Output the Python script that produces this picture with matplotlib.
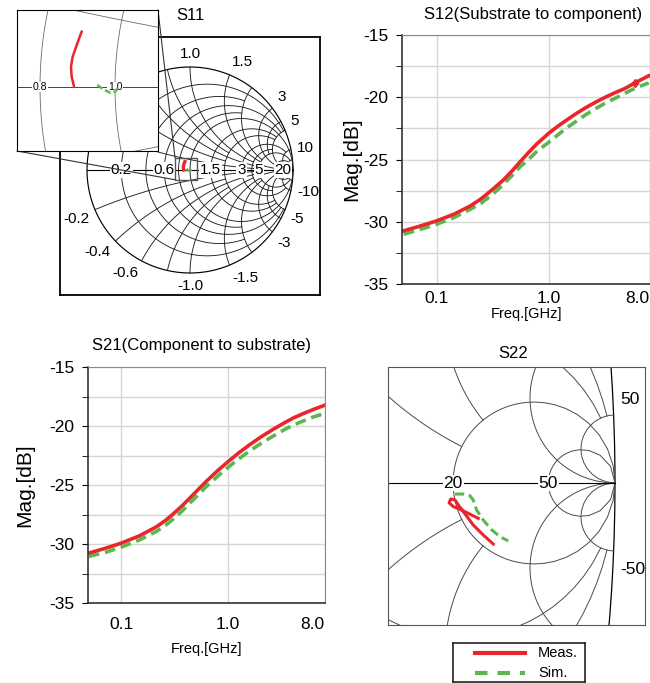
import numpy as np
import matplotlib.pyplot as plt
from matplotlib.patches import Rectangle, ConnectionPatch
from matplotlib.ticker import MultipleLocator, NullLocator

plt.rcParams['font.family'] = ['Liberation Sans', 'DejaVu Sans']
plt.rcParams['axes.unicode_minus'] = False

W, H = 650, 683
RED = '#e8262b'
GREEN = '#5ab84e'

# S12 magnitude (GHz, dB)
s12_f_meas = [0.0507, 0.0722, 0.1, 0.142, 0.2, 0.25, 0.316, 0.394, 0.47, 0.554, 0.66,
              0.778, 1.0, 1.2, 1.43, 1.75, 2.15, 2.65, 3.24, 4.0, 4.87, 5.97, 7.83]
s12_meas = [-30.73, -30.33, -29.93, -29.4, -28.73, -28.15, -27.4, -26.65, -25.93, -25.2,
            -24.45, -23.78, -22.9, -22.35, -21.87, -21.33, -20.83, -20.38, -19.98, -19.6,
            -19.27, -18.82, -18.28]
s12_f_sim = [0.0507, 0.0722, 0.1, 0.142, 0.2, 0.25, 0.316, 0.394, 0.47, 0.554, 0.66,
             0.778, 1.0, 1.2, 1.43, 1.75, 2.15, 2.65, 3.24, 4.0, 4.87, 6.0, 7.83]
s12_sim = [-31.0, -30.6, -30.2, -29.67, -29.0, -28.5, -27.8, -27.0, -26.3, -25.6,
           -25.0, -24.38, -23.62, -23.05, -22.5, -21.95, -21.4, -20.9, -20.45, -20.05,
           -19.65, -19.25, -18.85]

# S21 magnitude (GHz, dB)
s21_f = [0.0498, 0.072, 0.1, 0.149, 0.213, 0.26, 0.305, 0.37, 0.437, 0.53, 0.627, 0.8,
         1.0, 1.26, 1.6, 2.05, 2.64, 3.3, 4.07, 5.1, 6.27, 8.0]
s21_meas = [-30.77, -30.35, -29.93, -29.3, -28.55, -28.0, -27.47, -26.78, -26.12, -25.35,
            -24.68, -23.78, -23.02, -22.27, -21.57, -20.9, -20.28, -19.77, -19.32, -18.93,
            -18.6, -18.24]
s21_sim = [-31.05, -30.7, -30.27, -29.65, -28.94, -28.42, -27.9, -27.22, -26.55, -25.8,
           -25.12, -24.25, -23.5, -22.78, -22.1, -21.45, -20.85, -20.35, -19.92, -19.55,
           -19.23, -18.94]

# S11 reflection coefficient (real, imag)
s11_meas_re = [-0.0494, -0.0558, -0.0627, -0.0652, -0.0642, -0.0607]
s11_meas_im = [0.0819, 0.0647, 0.0449, 0.0301, 0.0153, 0.0004]
s11_sim_re = [-0.0262, -0.0173, -0.0074, 0.0, 0.0059]
s11_sim_im = [0.003, -0.0035, -0.0084, -0.0069, -0.0005]

# S22 reflection coefficient (real, imag)
s22_meas_re = [0.9196, 0.9098, 0.9049, 0.9024, 0.9034, 0.9059, 0.9078, 0.9108,
               0.9166, 0.9225, 0.9284]
s22_meas_im = [-0.0208, -0.0159, -0.0139, -0.0116, -0.0094, -0.0100, -0.0129, -0.0169,
               -0.0247, -0.0306, -0.0359]
s22_sim_re = [0.9059, 0.9108, 0.9147, 0.9166, 0.9186, 0.9225, 0.9275, 0.9324, 0.9372]
s22_sim_im = [-0.0065, -0.0065, -0.0075, -0.0100, -0.0159, -0.0218, -0.0276, -0.0316,
              -0.0341]

# smith grid: (value, limit of the other coordinate where the arc stops)
inf = np.inf
full_r = [(0.2, 5), (0.4, 2), (0.6, 5), (0.8, 2), (1.0, inf), (1.5, 5), (2, 5),
          (3, 10), (4, 5), (5, 20), (10, 20), (20, inf)]
full_x = [(0.2, 5), (0.4, 2), (0.6, 5), (0.8, 2), (1.0, inf), (1.5, 5), (2, 5),
          (3, 10), (4, 5), (5, 20), (10, 20), (20, inf)]
s11_axis_labels = [0.2, 0.6, 1.5, 3, 5, 20]
s11_rim_labels = [1.0, 1.5, 3, 5, 10, -0.2, -0.4, -0.6, -1.0, -1.5, -3, -5, -10]
zoom_r = [(5, 50), (10, 50), (20, inf), (50, inf)]
zoom_x = [(5, 20), (10, 20), (20, inf), (50, inf)]


def gamma(z):
    return (z - 1) / (z + 1)


def fmt(v):
    return f'{v:g}' if abs(v) >= 2 else f'{v:.1f}'


def smith_grid(ax, rvals, xvals, color, lw):
    t = np.linspace(-np.pi / 2 + 1e-6, np.pi / 2 - 1e-6, 800)
    g = gamma(0 + 1j * np.tan(t))
    ax.plot(g.real, g.imag, color='k', lw=lw + 0.2, zorder=1)
    for r, xmax in rvals:
        lim = np.arctan(xmax)
        g = gamma(r + 1j * np.tan(np.linspace(-lim, lim, 600)))
        ax.plot(g.real, g.imag, color=color, lw=lw, zorder=1)
    for x, rmax in xvals:
        p = np.linspace(0, np.arctan(rmax), 600)
        for s in (1, -1):
            g = gamma(np.tan(p) + 1j * s * x)
            ax.plot(g.real, g.imag, color=color, lw=lw, zorder=1)


def smith_axes(fig, box, origin, scale, at=(0.0, 0.0)):
    # box in pixels; origin pixel shows the reflection coefficient `at`
    x0, x1, y0, y1 = box
    ax = fig.add_axes([x0 / W, 1 - y1 / H, (x1 - x0) / W, (y1 - y0) / H])
    ox, oy = origin
    ax.set_xlim(at[0] + (x0 - ox) / scale, at[0] + (x1 - ox) / scale)
    ax.set_ylim(at[1] + (oy - y1) / scale, at[1] + (oy - y0) / scale)
    ax.set_xticks([])
    ax.set_yticks([])
    return ax


fig = plt.figure(figsize=(W / 100, H / 100), dpi=100)

# ---- S11 full chart
ax11 = smith_axes(fig, (60, 320, 37, 295), (190, 170), 103)
smith_grid(ax11, full_r, full_x, '#1e1e1e', 0.65)
ax11.plot([-1, 1], [0, 0], color='k', lw=0.8, zorder=1)
for r in s11_axis_labels:
    ax11.text(gamma(r), 0, fmt(r), fontsize=11, ha='center', va='center', zorder=1.5,
              bbox=dict(fc='white', ec='none', pad=0.5))
for x in s11_rim_labels:
    ang = np.angle(gamma(1j * x))
    c, s = np.cos(ang), np.sin(ang)
    ha = 'left' if c > 0.3 else ('right' if c < -0.3 else 'center')
    va = 'bottom' if s > 0.3 else ('top' if s < -0.3 else 'center')
    ax11.text(1.06 * c, 1.06 * s, fmt(x), fontsize=11, ha=ha, va=va)
ax11.plot(s11_meas_re, s11_meas_im, color=RED, lw=2.4, zorder=3)
ax11.plot(s11_sim_re, s11_sim_im, color=GREEN, lw=1.8, zorder=3)
for sp in ax11.spines.values():
    sp.set_linewidth(1.3)

# ---- S11 magnified inset
axin = smith_axes(fig, (17, 158, 10, 151), (115, 87), 675)
axin.set_zorder(5)
smith_grid(axin, full_r, full_x, '#6a6a6a', 0.6)
axin.plot([-1, 1], [0, 0], color='#444', lw=0.7, zorder=1)
for r in (0.8, 1.0):
    axin.text(gamma(r), 0, f'{r:.1f}', fontsize=7.5, ha='center', va='center',
              zorder=1.5, bbox=dict(fc='white', ec='none', pad=0.3))
axin.plot(s11_meas_re, s11_meas_im, color=RED, lw=1.8, zorder=3)
axin.plot(s11_sim_re, s11_sim_im, color=GREEN, lw=1.8, ls=(0, (2.5, 1.2)), zorder=3)
xl, yl = axin.get_xlim(), axin.get_ylim()
ax11.add_patch(Rectangle((xl[0], yl[0]), xl[1] - xl[0], yl[1] - yl[0],
                         fill=False, ec='#555', lw=1, zorder=2))
for a, b in (((1, 1), (xl[0], yl[1])), ((0, 0), (xl[0], yl[0]))):
    fig.add_artist(ConnectionPatch(xyA=a, coordsA=axin.transAxes, xyB=b,
                                   coordsB=ax11.transData, color='#333', lw=0.8))
fig.text(190 / W, 1 - 15 / H, 'S11', fontsize=12, ha='center', va='center')


# ---- magnitude panels
def mag_panel(box, title, title_xy, f_meas, meas, f_sim, sim, mark=None,
              ylabel_x=361, xtick_pad=5, xlabel_pad=1):
    x0, x1, y0, y1 = box
    ax = fig.add_axes([x0 / W, 1 - y1 / H, (x1 - x0) / W, (y1 - y0) / H])
    ax.set_xscale('log')
    ax.set_xlim(0.049, 8.05)
    ax.set_ylim(-35, -15)
    ax.set_xticks([0.1, 1.0, 8.0])
    ax.set_xticklabels(['0.1', '1.0', '8.0'], fontsize=12.5)
    ax.get_xticklabels()[-1].set_horizontalalignment('right')
    ax.xaxis.set_minor_locator(NullLocator())
    ax.yaxis.set_major_locator(MultipleLocator(5))
    ax.yaxis.set_minor_locator(MultipleLocator(2.5))
    ax.tick_params(axis='y', which='both', direction='out', length=4,
                   labelsize=12.5, pad=6)
    ax.tick_params(axis='x', length=0, pad=xtick_pad)
    ax.grid(True, which='both', axis='y', color='#d6d6d6', lw=1)
    ax.grid(True, which='major', axis='x', color='#d6d6d6', lw=1)
    ax.set_axisbelow(True)
    ax.plot(f_sim, sim, color=GREEN, lw=2.6, ls=(0, (3, 1.6)))
    ax.plot(f_meas, meas, color=RED, lw=2.6,
            marker='d' if mark is not None else None, markersize=4.5,
            markevery=[mark] if mark is not None else None)
    ax.set_ylabel('Mag.[dB]', fontsize=15)
    ax.yaxis.set_label_coords((ylabel_x - x0) / (x1 - x0), 0.5)
    ax.set_xlabel('Freq.[GHz]', fontsize=10.5, labelpad=xlabel_pad)
    for side in ('top', 'right'):
        ax.spines[side].set_color('#888')
    for side in ('left', 'bottom'):
        ax.spines[side].set_color('#333')
        ax.spines[side].set_linewidth(1.2)
    fig.text(title_xy[0] / W, 1 - title_xy[1] / H, title, fontsize=12,
             ha='center', va='center')
    return ax


mag_panel((402, 650, 35, 284), 'S12(Substrate to component)', (533, 15),
          s12_f_meas, s12_meas, s12_f_sim, s12_sim, mark=21, ylabel_x=361)
mag_panel((88, 325, 367, 603), 'S21(Component to substrate)', (202, 345),
          s21_f, s21_meas, s21_f, s21_sim, ylabel_x=34, xtick_pad=10, xlabel_pad=7)

# ---- S22 magnified chart near the open-circuit point
ax22 = smith_axes(fig, (388, 645, 367, 625), (615, 483), 1700, at=(1.0, 0.0))
smith_grid(ax22, zoom_r, zoom_x, '#4a4a4a', 0.7)
ax22.plot([0.5, 1], [0, 0], color='k', lw=0.8, zorder=1)
for r in (20, 50):
    ax22.text(gamma(r), 0, f'{r}', fontsize=12.5, ha='center', va='center', zorder=1.5,
              bbox=dict(fc='white', ec='none', pad=0.6))
for x in (50, -50):
    g = gamma(1j * x)
    ax22.annotate(f'{x}', (g.real, g.imag), xytext=(5, 6 if x > 0 else -8),
                  textcoords='offset points', fontsize=12.5, ha='left',
                  va='bottom' if x > 0 else 'top')
ax22.plot(s22_meas_re, s22_meas_im, color=RED, lw=2.2, zorder=3)
ax22.plot(s22_sim_re, s22_sim_im, color=GREEN, lw=2.2, ls=(0, (3, 1.5)), zorder=3)
for sp in ax22.spines.values():
    sp.set_color('#555')
fig.text(513 / W, 1 - 353 / H, 'S22', fontsize=12, ha='center', va='center')

# ---- legend box, drawn in its own pixel-scaled axes
axl = fig.add_axes([453 / W, 1 - 682 / H, 132 / W, 39 / H])
axl.set_xlim(0, 132)
axl.set_ylim(39, 0)
axl.set_xticks([])
axl.set_yticks([])
for sp in axl.spines.values():
    sp.set_linewidth(1.2)
    sp.set_color('#222')
axl.plot([22, 72], [10, 10], color=RED, lw=3)
axl.plot([22, 72], [30, 30], color=GREEN, lw=3, ls=(0, (3, 2.4)))
axl.text(85, 10, 'Meas.', fontsize=10.5, va='center')
axl.text(85, 30, 'Sim.', fontsize=10.5, va='center')

fig.savefig('out.png', dpi=100)
